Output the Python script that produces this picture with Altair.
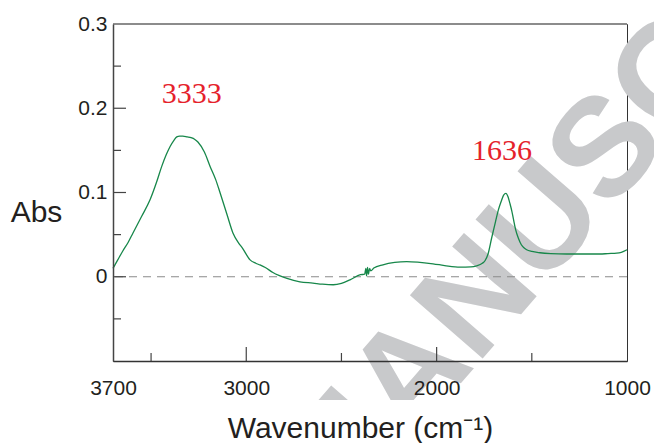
import altair as alt
import pandas as pd

# IR absorbance spectrum (wavenumber in cm-1, absorbance)
wavenumber = [3700, 3675, 3650, 3620, 3595, 3550, 3506, 3470, 3444, 3420, 3400,
              3380, 3365, 3350, 3333, 3310, 3290, 3270, 3254, 3220, 3190, 3160,
              3138, 3100, 3070, 3040, 3020, 2980, 2950, 2928, 2900, 2860, 2786,
              2718, 2650, 2600, 2543, 2500, 2455, 2400, 2378, 2372, 2368, 2363,
              2358, 2352, 2346, 2330, 2282, 2220, 2157, 2100, 2019, 1950, 1877,
              1820, 1790, 1760, 1746, 1730, 1711, 1690, 1676, 1660, 1648, 1636,
              1625, 1615, 1605, 1597, 1585, 1571, 1555, 1540, 1527, 1500, 1457,
              1400, 1317, 1200, 1142, 1100, 1054, 1030, 1000]
absorbance = [0.010, 0.020, 0.030, 0.041, 0.052, 0.0715, 0.091, 0.113, 0.131,
              0.145, 0.1546, 0.162, 0.166, 0.167, 0.167, 0.166, 0.165, 0.163,
              0.160, 0.148, 0.131, 0.115, 0.100, 0.073, 0.052, 0.040, 0.034,
              0.020, 0.016, 0.014, 0.011, 0.005, -0.002, -0.006, -0.0075,
              -0.0088, -0.0095, -0.0078, -0.0036, 0.0024, 0.003, 0.010, 0.001,
              0.011, 0.003, 0.010, 0.007, 0.0103, 0.0142, 0.017, 0.018, 0.0174,
              0.0154, 0.013, 0.0115, 0.0118, 0.013, 0.016, 0.019, 0.027, 0.046,
              0.066, 0.079, 0.090, 0.097, 0.099, 0.095, 0.087, 0.078, 0.069,
              0.056, 0.046, 0.038, 0.034, 0.032, 0.030, 0.0285, 0.0275, 0.027,
              0.027, 0.027, 0.0275, 0.028, 0.029, 0.032]

# labelled band maxima
peak_wn = [3333, 1636]
peak_abs = [0.167, 0.099]

# axis ticks
x_labels = [3700, 3000, 2000, 1000]
x_major = [3000, 2000]
x_minor = [3500, 2500, 1500]
y_labels = [0, 0.1, 0.2, 0.3]
y_major = [0, 0.1, 0.2, 0.3]
y_minor = [-0.05, 0.05, 0.15, 0.25]

stamp = ["MANUSCRIPT"]

W, H = 514, 337
FONT = "Liberation Sans"
INK = "#231f20"

spec = pd.DataFrame({"wn": wavenumber, "abs": absorbance})
peaks = pd.DataFrame({"wn": peak_wn, "abs": peak_abs})

xs = alt.Scale(domain=[1000, 3700], reverse=True, nice=False, zero=False)
ys = alt.Scale(domain=[-0.1, 0.3], nice=False, zero=False)

x_axis = alt.Axis(values=x_labels, format="d", ticks=False, grid=False,
                  labelFlush=False, labelOverlap=False, labelFont=FONT,
                  labelFontSize=21, labelColor=INK, labelPadding=16,
                  domainColor="#333", domainWidth=1.5,
                  title="Wavenumber (cm\u207b\u00b9)",
                  titleFont=FONT, titleFontSize=30, titleFontWeight="normal",
                  titleColor=INK, titleX=247, titleY=76,
                  titleBaseline="alphabetic", titleAlign="center", zindex=1)
y_axis = alt.Axis(values=y_labels, ticks=False, grid=False, labelFlush=False,
                  labelOverlap=False, labelFont=FONT, labelFontSize=21,
                  labelColor=INK, labelPadding=6, domainColor="#444",
                  domainWidth=1.5,
                  labelExpr="datum.value == 0 ? '0' : format(datum.value, '.1f')",
                  title="Abs", titleFont=FONT, titleFontSize=30,
                  titleFontWeight="normal", titleColor=INK, titleAngle=0,
                  titleX=-77, titleY=188, titleAlign="center",
                  titleBaseline="middle", zindex=1)

X = lambda f: alt.X(f, scale=xs, axis=x_axis)
Y = lambda f: alt.Y(f, scale=ys, axis=y_axis)

# faint diagonal stamp behind everything, trimmed along its lower edge
watermark = alt.Chart(pd.DataFrame({"t": stamp})).mark_text(
    font=FONT, fontWeight="bold", fontSize=140, color="#c8c9cb",
    angle=311, align="center", baseline="middle"
).encode(x=alt.value(495), y=alt.value(126), text="t:N")

mask = alt.Chart(pd.DataFrame({"k": [0]})).mark_rect(color="white").encode(
    x=alt.value(-113), x2=alt.value(W + 27),
    y=alt.value(376), y2=alt.value(H + 82))

zero_line = alt.Chart(pd.DataFrame({"abs": [0]})).mark_rule(
    color="#8a8a8a", strokeDash=[8, 6], strokeWidth=1
).encode(y=Y("abs:Q"))

line = alt.Chart(spec).mark_line(
    color="#17874a", strokeWidth=1.3, interpolate="monotone"
).encode(x=X("wn:Q"), y=Y("abs:Q"))

def peak_label(i, dx):
    return alt.Chart(peaks.iloc[[i]]).mark_text(
        font="Liberation Serif", fontSize=30, color="#e5222b",
        align="center", baseline="middle", dx=dx, dy=-42
    ).encode(x=X("wn:Q"), y=Y("abs:Q"),
             text=alt.Text("wn:Q", format="d"))

def y_ticks(vals, length):
    return alt.Chart(pd.DataFrame({"abs": vals})).mark_rule(
        color="#444", strokeWidth=1.2
    ).encode(y=Y("abs:Q"), x=alt.value(0), x2=alt.value(length))

def x_ticks(vals, length):
    return alt.Chart(pd.DataFrame({"wn": vals})).mark_rule(
        color="#444", strokeWidth=1.2
    ).encode(x=X("wn:Q"), y=alt.value(H), y2=alt.value(H - length))

top_edge = alt.Chart(pd.DataFrame({"k": [0]})).mark_rule(
    color="#8c8c8c", strokeWidth=2
).encode(y=alt.value(0), x=alt.value(0), x2=alt.value(W))

chart = alt.layer(
    watermark, mask, zero_line, line,
    y_ticks(y_major, 13), y_ticks(y_minor, 8),
    x_ticks(x_major, 14), x_ticks(x_minor, 8),
    top_edge, peak_label(0, 9), peak_label(1, -4),
).properties(
    width=W, height=H,
    autosize=alt.AutoSizeParams(type="none"),
    padding={"left": 113, "top": 24, "right": 27, "bottom": 82},
    background="white",
).configure_view(stroke="#333", strokeWidth=1)

chart.save("out.html", embed_options={"renderer": "svg", "actions": False})
